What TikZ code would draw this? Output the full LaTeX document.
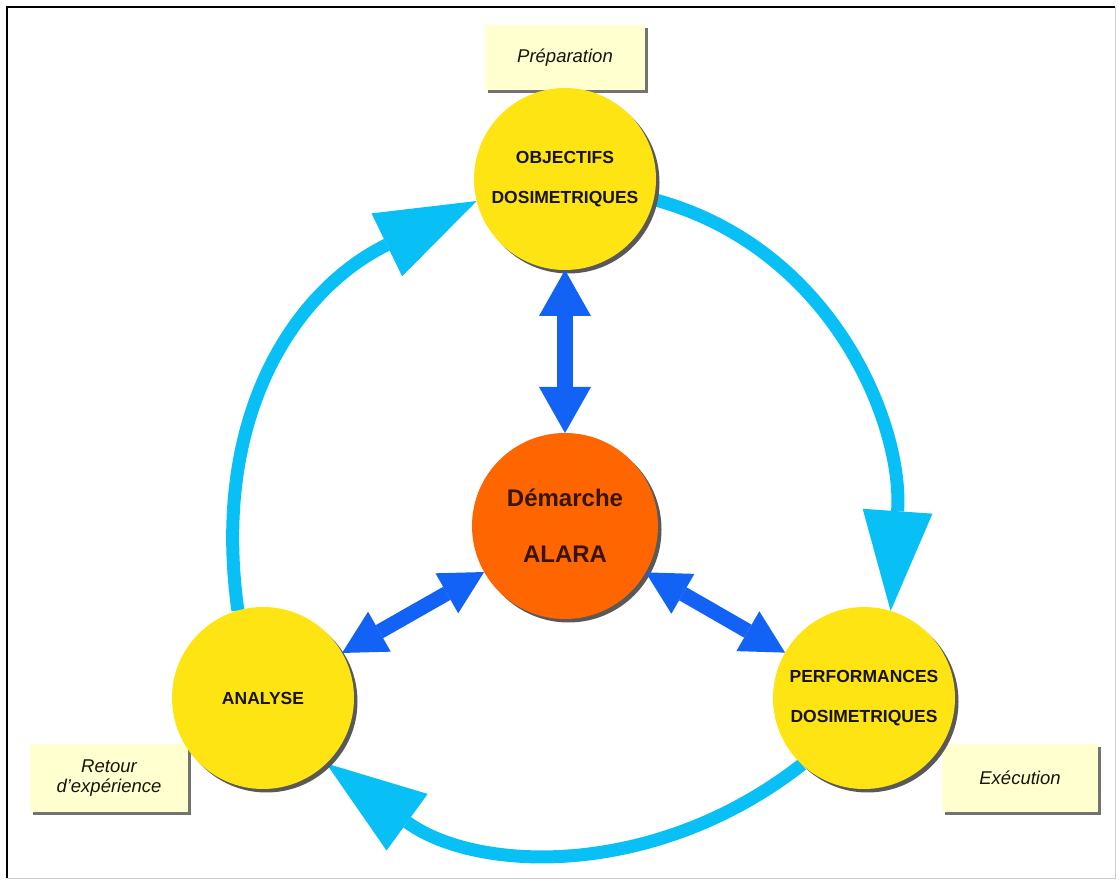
\documentclass[tikz,border=0pt]{standalone}
\usepackage{fontspec}
\setmainfont{Liberation Sans}
\usetikzlibrary{arrows.meta,shadows,backgrounds}
\definecolor{circyellow}{RGB}{255,228,20}
\definecolor{alaraorange}{RGB}{255,102,0}
\definecolor{labelfill}{RGB}{255,255,208}
\definecolor{cyclecyan}{RGB}{8,192,245}
\definecolor{linkblue}{RGB}{18,98,245}
\definecolor{textdark}{RGB}{25,20,10}
\definecolor{alaratext}{RGB}{55,20,5}
\tikzset{
  phasecircle/.style={circle, fill=circyellow, minimum size=182pt, inner sep=0pt, outer sep=0pt,
    align=center, text=textdark, font=\fontsize{17.5}{40}\selectfont\bfseries,
    drop shadow={shadow xshift=3.5pt, shadow yshift=-3.5pt, fill=black!65, opacity=1}},
  corecircle/.style={circle, fill=alaraorange, minimum size=186pt, inner sep=0pt, outer sep=0pt,
    align=center, text=alaratext, font=\fontsize{24}{56}\selectfont\bfseries,
    drop shadow={shadow xshift=3.5pt, shadow yshift=-3.5pt, fill=black!65, opacity=1}},
  labelbox/.style={rectangle, fill=labelfill, inner sep=0pt, outer sep=0pt, align=center,
    minimum width=158pt, minimum height=68pt,
    font=\fontsize{18.5}{20}\selectfont\itshape, text=textdark,
    drop shadow={shadow xshift=3pt, shadow yshift=-3pt, fill=black!55, opacity=1}},
  cyclearrow/.style={draw=cyclecyan, line width=13pt,
    -{Triangle[length=100pt,width=70pt,line width=0pt]}},
  linkarrow/.style={draw=linkblue, line width=16pt,
    {Triangle[length=46pt,width=52pt,line width=0pt]}-{Triangle[length=46pt,width=52pt,line width=0pt]}},
  diaglink/.style={draw=linkblue, line width=15pt,
    {Triangle[length=43pt,width=46pt,line width=0pt]}-{Triangle[length=43pt,width=46pt,line width=0pt]}},
}
\begin{document}
\begin{tikzpicture}[x=1pt,y=1pt]
\useasboundingbox (0,0) rectangle (1119,881);
% frame
\draw[line width=1.4pt] (7,3) -- (7,874) -- (1115,874);
\draw[black!20, line width=0.8pt] (1115,874) -- (1115,3) -- (7,3);
% label boxes
\node[labelbox, minimum width=160pt, minimum height=65pt] (prep) at (565,823) {Préparation};
\node[labelbox] (retour) at (109,103) {Retour\\d'expérience};
\node[labelbox, minimum width=156pt] (exec) at (1020,103) {Exécution};
% circles
\node[phasecircle] (top) at (565,702) {OBJECTIFS\\DOSIMETRIQUES};
\node[corecircle] (alara) at (565,355) {Démarche\\ALARA};
\node[phasecircle] (analyse) at (263,183) {ANALYSE};
\node[phasecircle] (perf) at (864,183) {PERFORMANCES\\DOSIMETRIQUES};
% cycle arrows
\begin{pgfonlayer}{background}
\draw[cyclearrow] (top.-13) to[out=-15, in=86] (perf.73);
\draw[cyclearrow] (perf.227) to[out=218, in=-36] (analyse.-46);
\draw[cyclearrow] (analyse.106) to[out=98, in=206, looseness=1.08] (top.194);
\end{pgfonlayer}
% links
\draw[linkarrow] (top) -- (alara);
\draw[diaglink] (analyse) -- (alara);
\draw[diaglink] (alara) -- (perf);
\end{tikzpicture}
\end{document}
